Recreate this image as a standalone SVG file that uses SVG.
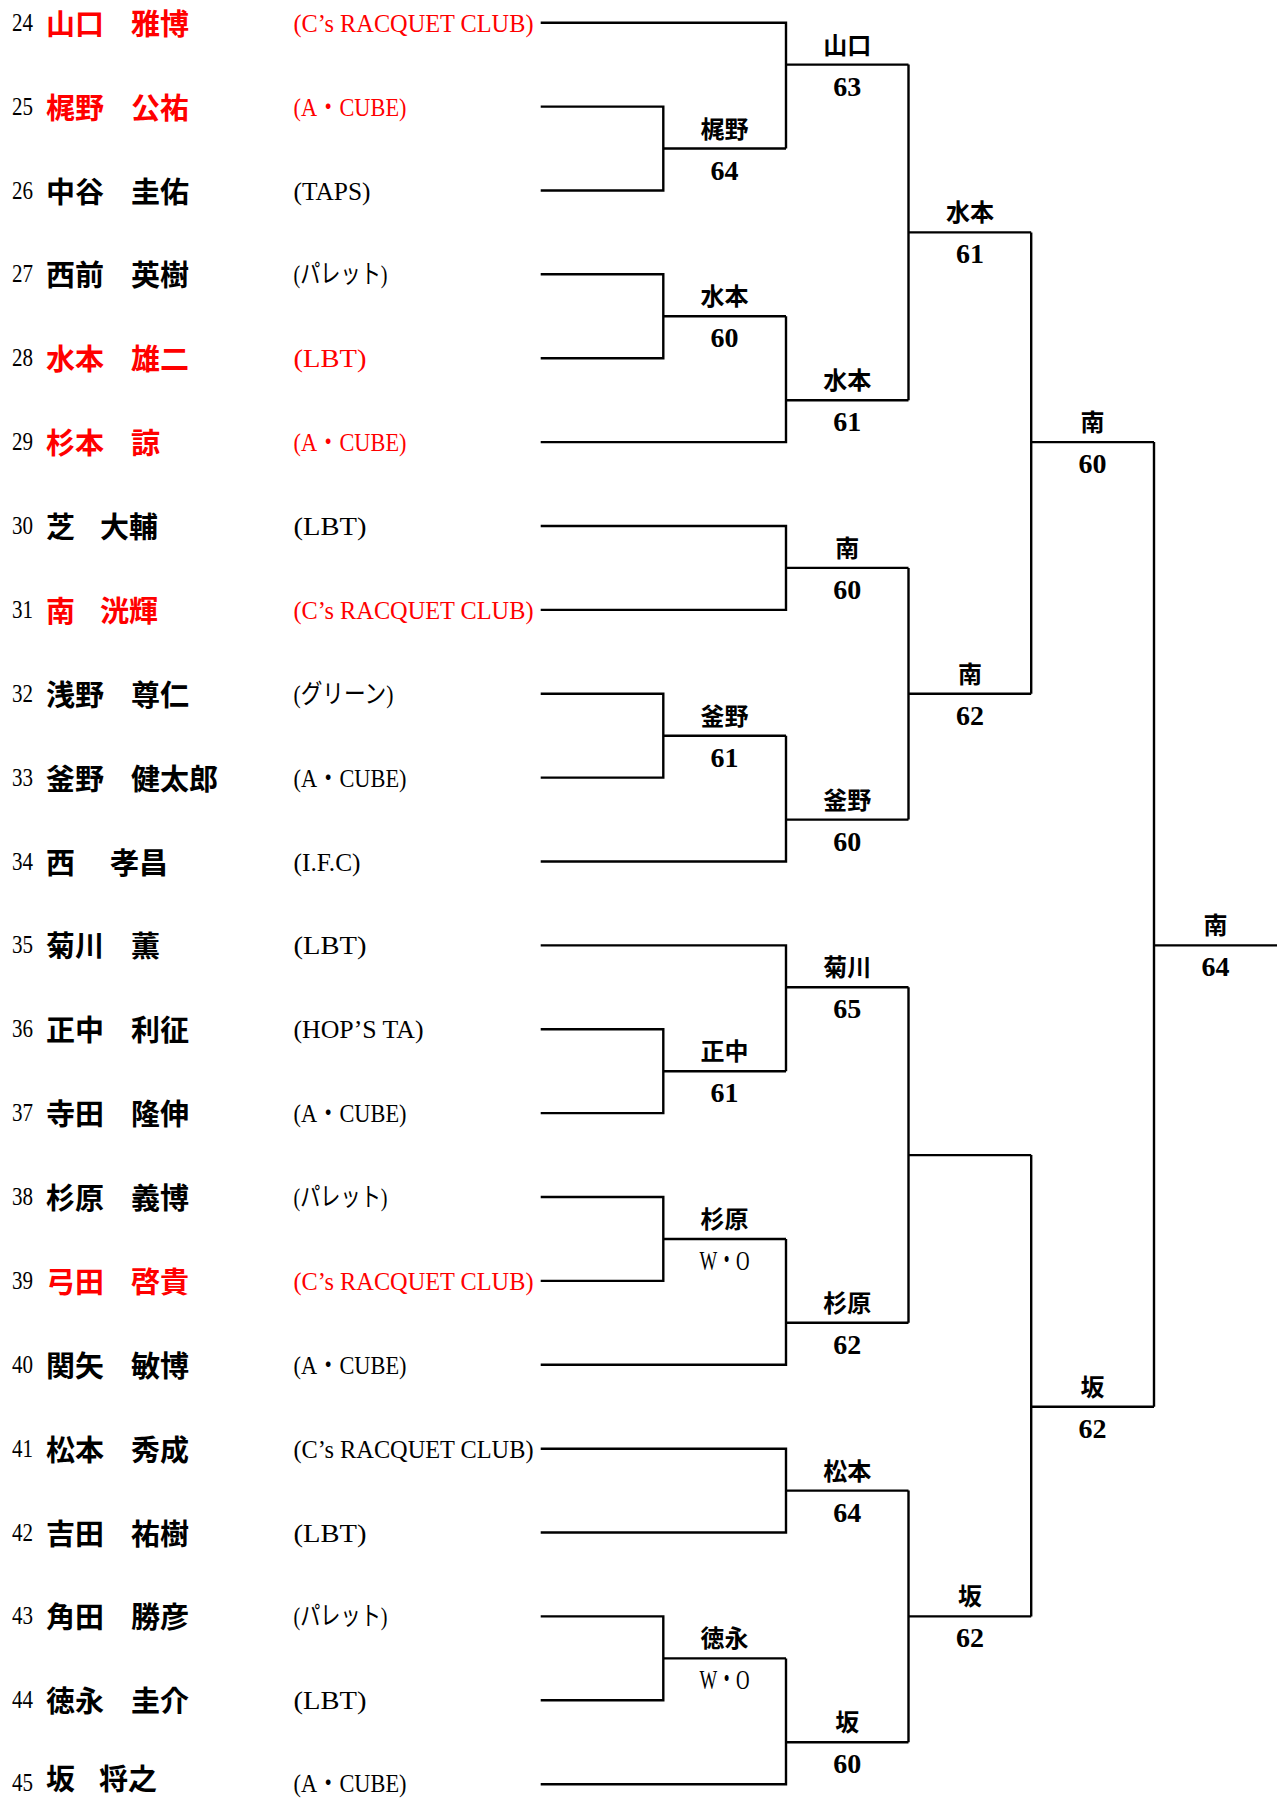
<svg xmlns="http://www.w3.org/2000/svg" width="1284" height="1798" viewBox="0 0 1284 1798">
<style>
.ln{fill:none;stroke:#000;stroke-width:2.4}
.num{font-family:"Liberation Serif",serif;font-size:25px;fill:#000}
.nm{font-family:"Noto Sans CJK JP",sans-serif;font-size:29px;font-weight:bold;fill:#000}
.club{font-family:"Liberation Serif","Noto Sans CJK JP",serif;font-size:26px;fill:#000}
.red{fill:#ff0000}
.wn{font-family:"Noto Sans CJK JP",sans-serif;font-size:24px;font-weight:bold;text-anchor:middle;fill:#000}
.sc{font-family:"Liberation Serif",serif;font-size:28px;font-weight:bold;text-anchor:middle;fill:#000}
.wo{font-family:"Liberation Serif","Noto Sans CJK JP",serif;font-size:28px;text-anchor:middle;fill:#000}
</style>
<rect width="1284" height="1798" fill="#fff"/>
<g id="players">
<g id="p24" transform="translate(0,22.7)"><text class="num" x="12" y="8" textLength="21" lengthAdjust="spacingAndGlyphs">24</text><text class="nm red" x="46" y="12">山口</text><text class="nm red" x="131" y="12">雅博</text><text class="club red" x="293.5" y="9" textLength="240" lengthAdjust="spacingAndGlyphs">(C’s RACQUET CLUB)</text></g>
<g id="p25" transform="translate(0,106.6)"><text class="num" x="12" y="8" textLength="21" lengthAdjust="spacingAndGlyphs">25</text><text class="nm red" x="46" y="12">梶野</text><text class="nm red" x="131" y="12">公祐</text><text class="club red" x="293.5" y="9" textLength="113" lengthAdjust="spacingAndGlyphs">(A・CUBE)</text></g>
<g id="p26" transform="translate(0,190.5)"><text class="num" x="12" y="8" textLength="21" lengthAdjust="spacingAndGlyphs">26</text><text class="nm" x="46" y="12">中谷</text><text class="nm" x="131" y="12">圭佑</text><text class="club" x="293.5" y="9" textLength="77" lengthAdjust="spacingAndGlyphs">(TAPS)</text></g>
<g id="p27" transform="translate(0,274.3)"><text class="num" x="12" y="8" textLength="21" lengthAdjust="spacingAndGlyphs">27</text><text class="nm" x="46" y="12">西前</text><text class="nm" x="131" y="12">英樹</text><text class="club" x="293.5" y="9" textLength="94" lengthAdjust="spacingAndGlyphs">(パレット)</text></g>
<g id="p28" transform="translate(0,358.2)"><text class="num" x="12" y="8" textLength="21" lengthAdjust="spacingAndGlyphs">28</text><text class="nm red" x="46" y="12">水本</text><text class="nm red" x="131" y="12">雄二</text><text class="club red" x="293.5" y="9" textLength="73" lengthAdjust="spacingAndGlyphs">(LBT)</text></g>
<g id="p29" transform="translate(0,442.1)"><text class="num" x="12" y="8" textLength="21" lengthAdjust="spacingAndGlyphs">29</text><text class="nm red" x="46" y="12">杉本</text><text class="nm red" x="131" y="12">諒</text><text class="club red" x="293.5" y="9" textLength="113" lengthAdjust="spacingAndGlyphs">(A・CUBE)</text></g>
<g id="p30" transform="translate(0,526)"><text class="num" x="12" y="8" textLength="21" lengthAdjust="spacingAndGlyphs">30</text><text class="nm" x="46" y="12">芝</text><text class="nm" x="100" y="12">大輔</text><text class="club" x="293.5" y="9" textLength="73" lengthAdjust="spacingAndGlyphs">(LBT)</text></g>
<g id="p31" transform="translate(0,609.9)"><text class="num" x="12" y="8" textLength="21" lengthAdjust="spacingAndGlyphs">31</text><text class="nm red" x="46" y="12">南</text><text class="nm red" x="100" y="12">洸輝</text><text class="club red" x="293.5" y="9" textLength="240" lengthAdjust="spacingAndGlyphs">(C’s RACQUET CLUB)</text></g>
<g id="p32" transform="translate(0,693.7)"><text class="num" x="12" y="8" textLength="21" lengthAdjust="spacingAndGlyphs">32</text><text class="nm" x="46" y="12">浅野</text><text class="nm" x="131" y="12">尊仁</text><text class="club" x="293.5" y="9" textLength="100" lengthAdjust="spacingAndGlyphs">(グリーン)</text></g>
<g id="p33" transform="translate(0,777.6)"><text class="num" x="12" y="8" textLength="21" lengthAdjust="spacingAndGlyphs">33</text><text class="nm" x="46" y="12">釜野</text><text class="nm" x="131" y="12">健太郎</text><text class="club" x="293.5" y="9" textLength="113" lengthAdjust="spacingAndGlyphs">(A・CUBE)</text></g>
<g id="p34" transform="translate(0,861.5)"><text class="num" x="12" y="8" textLength="21" lengthAdjust="spacingAndGlyphs">34</text><text class="nm" x="46" y="12">西</text><text class="nm" x="110" y="12">孝昌</text><text class="club" x="293.5" y="9" textLength="67" lengthAdjust="spacingAndGlyphs">(I.F.C)</text></g>
<g id="p35" transform="translate(0,945.4)"><text class="num" x="12" y="8" textLength="21" lengthAdjust="spacingAndGlyphs">35</text><text class="nm" x="46" y="12">菊川</text><text class="nm" x="131" y="12">薫</text><text class="club" x="293.5" y="9" textLength="73" lengthAdjust="spacingAndGlyphs">(LBT)</text></g>
<g id="p36" transform="translate(0,1029.3)"><text class="num" x="12" y="8" textLength="21" lengthAdjust="spacingAndGlyphs">36</text><text class="nm" x="46" y="12">正中</text><text class="nm" x="131" y="12">利征</text><text class="club" x="293.5" y="9" textLength="130" lengthAdjust="spacingAndGlyphs">(HOP’S TA)</text></g>
<g id="p37" transform="translate(0,1113.1)"><text class="num" x="12" y="8" textLength="21" lengthAdjust="spacingAndGlyphs">37</text><text class="nm" x="46" y="12">寺田</text><text class="nm" x="131" y="12">隆伸</text><text class="club" x="293.5" y="9" textLength="113" lengthAdjust="spacingAndGlyphs">(A・CUBE)</text></g>
<g id="p38" transform="translate(0,1197)"><text class="num" x="12" y="8" textLength="21" lengthAdjust="spacingAndGlyphs">38</text><text class="nm" x="46" y="12">杉原</text><text class="nm" x="131" y="12">義博</text><text class="club" x="293.5" y="9" textLength="94" lengthAdjust="spacingAndGlyphs">(パレット)</text></g>
<g id="p39" transform="translate(0,1280.9)"><text class="num" x="12" y="8" textLength="21" lengthAdjust="spacingAndGlyphs">39</text><text class="nm red" x="46" y="12">弓田</text><text class="nm red" x="131" y="12">啓貴</text><text class="club red" x="293.5" y="9" textLength="240" lengthAdjust="spacingAndGlyphs">(C’s RACQUET CLUB)</text></g>
<g id="p40" transform="translate(0,1364.8)"><text class="num" x="12" y="8" textLength="21" lengthAdjust="spacingAndGlyphs">40</text><text class="nm" x="46" y="12">関矢</text><text class="nm" x="131" y="12">敏博</text><text class="club" x="293.5" y="9" textLength="113" lengthAdjust="spacingAndGlyphs">(A・CUBE)</text></g>
<g id="p41" transform="translate(0,1448.7)"><text class="num" x="12" y="8" textLength="21" lengthAdjust="spacingAndGlyphs">41</text><text class="nm" x="46" y="12">松本</text><text class="nm" x="131" y="12">秀成</text><text class="club" x="293.5" y="9" textLength="240" lengthAdjust="spacingAndGlyphs">(C’s RACQUET CLUB)</text></g>
<g id="p42" transform="translate(0,1532.5)"><text class="num" x="12" y="8" textLength="21" lengthAdjust="spacingAndGlyphs">42</text><text class="nm" x="46" y="12">吉田</text><text class="nm" x="131" y="12">祐樹</text><text class="club" x="293.5" y="9" textLength="73" lengthAdjust="spacingAndGlyphs">(LBT)</text></g>
<g id="p43" transform="translate(0,1616.4)"><text class="num" x="12" y="8" textLength="21" lengthAdjust="spacingAndGlyphs">43</text><text class="nm" x="46" y="12">角田</text><text class="nm" x="131" y="12">勝彦</text><text class="club" x="293.5" y="9" textLength="94" lengthAdjust="spacingAndGlyphs">(パレット)</text></g>
<g id="p44" transform="translate(0,1700.3)"><text class="num" x="12" y="8" textLength="21" lengthAdjust="spacingAndGlyphs">44</text><text class="nm" x="46" y="12">徳永</text><text class="nm" x="131" y="12">圭介</text><text class="club" x="293.5" y="9" textLength="73" lengthAdjust="spacingAndGlyphs">(LBT)</text></g>
<g id="p45" transform="translate(0,1784.2)"><text class="num" x="12" y="7" textLength="21" lengthAdjust="spacingAndGlyphs">45</text><text class="nm" x="46" y="5.5">坂</text><text class="nm" x="99" y="5.5">将之</text><text class="club" x="293.5" y="7.5" textLength="113" lengthAdjust="spacingAndGlyphs">(A・CUBE)</text></g>
</g>
<g id="connectors" class="ln">
<path d="M540.7 106.6H663.3V190.5H540.7M663.3 148.5H786"/>
<path d="M540.7 274.3H663.3V358.2H540.7M663.3 316.3H786"/>
<path d="M540.7 693.7H663.3V777.6H540.7M663.3 735.7H786"/>
<path d="M540.7 1029.3H663.3V1113.1H540.7M663.3 1071.2H786"/>
<path d="M540.7 1197H663.3V1280.9H540.7M663.3 1239H786"/>
<path d="M540.7 1616.4H663.3V1700.3H540.7M663.3 1658.4H786"/>
<path d="M540.7 22.7H786V148.5M786 64.6H908.5"/>
<path d="M786 316.3V442.1H540.7M786 400.2H908.5"/>
<path d="M540.7 526H786V609.9H540.7M786 567.9H908.5"/>
<path d="M786 735.7V861.5H540.7M786 819.6H908.5"/>
<path d="M540.7 945.4H786V1071.2M786 987.3H908.5"/>
<path d="M786 1239V1364.8H540.7M786 1322.8H908.5"/>
<path d="M540.7 1448.7H786V1532.5H540.7M786 1490.6H908.5"/>
<path d="M786 1658.4V1784.2H540.7M786 1742.2H908.5"/>
<path d="M908.5 64.6V400.2M908.5 232.4H1031.2"/>
<path d="M908.5 567.9V819.6M908.5 693.7H1031.2"/>
<path d="M908.5 987.3V1322.8M908.5 1155.1H1031.2"/>
<path d="M908.5 1490.6V1742.2M908.5 1616.4H1031.2"/>
<path d="M1031.2 232.4V693.7M1031.2 442.1H1154"/>
<path d="M1031.2 1155.1V1616.4M1031.2 1406.7H1154"/>
<path d="M1154 442.1V1406.7M1154 945.4H1277"/>
</g>
<g id="results">
<g id="r1a" transform="translate(724.6,148.5)"><text class="wn" y="-11">梶野</text><text class="sc" y="31">64</text></g>
<g id="r1b" transform="translate(724.6,316.3)"><text class="wn" y="-11">水本</text><text class="sc" y="31">60</text></g>
<g id="r1c" transform="translate(724.6,735.7)"><text class="wn" y="-11">釜野</text><text class="sc" y="31">61</text></g>
<g id="r1d" transform="translate(724.6,1071.2)"><text class="wn" y="-11">正中</text><text class="sc" y="31">61</text></g>
<g id="r1e" transform="translate(724.6,1239)"><text class="wn" y="-11">杉原</text><text class="wo" y="31" textLength="50" lengthAdjust="spacingAndGlyphs">W・O</text></g>
<g id="r1f" transform="translate(724.6,1658.4)"><text class="wn" y="-11">徳永</text><text class="wo" y="31" textLength="50" lengthAdjust="spacingAndGlyphs">W・O</text></g>
<g id="r2a" transform="translate(847.2,64.6)"><text class="wn" y="-11">山口</text><text class="sc" y="31">63</text></g>
<g id="r2b" transform="translate(847.2,400.2)"><text class="wn" y="-11">水本</text><text class="sc" y="31">61</text></g>
<g id="r2c" transform="translate(847.2,567.9)"><text class="wn" y="-11">南</text><text class="sc" y="31">60</text></g>
<g id="r2d" transform="translate(847.2,819.6)"><text class="wn" y="-11">釜野</text><text class="sc" y="31">60</text></g>
<g id="r2e" transform="translate(847.2,987.3)"><text class="wn" y="-11">菊川</text><text class="sc" y="31">65</text></g>
<g id="r2f" transform="translate(847.2,1322.8)"><text class="wn" y="-11">杉原</text><text class="sc" y="31">62</text></g>
<g id="r2g" transform="translate(847.2,1490.6)"><text class="wn" y="-11">松本</text><text class="sc" y="31">64</text></g>
<g id="r2h" transform="translate(847.2,1742.2)"><text class="wn" y="-11">坂</text><text class="sc" y="31">60</text></g>
<g id="r3a" transform="translate(969.9,232.4)"><text class="wn" y="-11">水本</text><text class="sc" y="31">61</text></g>
<g id="r3b" transform="translate(969.9,693.7)"><text class="wn" y="-11">南</text><text class="sc" y="31">62</text></g>
<g id="r3d" transform="translate(969.9,1616.4)"><text class="wn" y="-11">坂</text><text class="sc" y="31">62</text></g>
<g id="r4a" transform="translate(1092.6,442.1)"><text class="wn" y="-11">南</text><text class="sc" y="31">60</text></g>
<g id="r4b" transform="translate(1092.6,1406.7)"><text class="wn" y="-11">坂</text><text class="sc" y="31">62</text></g>
<g id="r5" transform="translate(1215.5,945.4)"><text class="wn" y="-11">南</text><text class="sc" y="31">64</text></g>
</g>
</svg>
